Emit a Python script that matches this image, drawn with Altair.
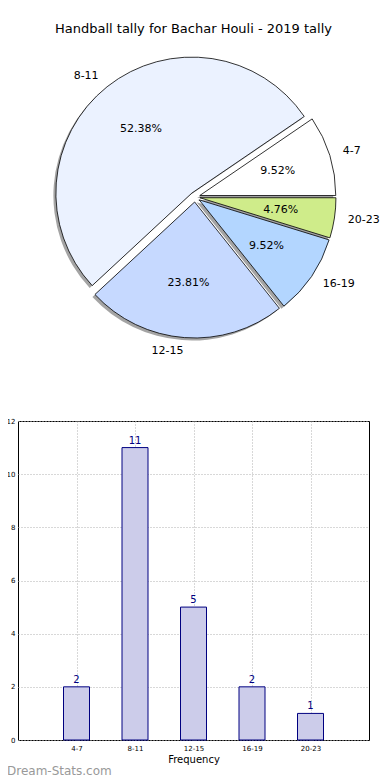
import math
import altair as alt
import pandas as pd

# ---------------- data ----------------
categories = ["4-7", "8-11", "12-15", "16-19", "20-23"]
counts = [2, 11, 5, 2, 1]
pie_colors = ["#ffffff", "#ebf2ff", "#c6d9ff", "#b3d6ff", "#cfec8a"]
y_ticks = [0, 2, 4, 6, 8, 10, 12]

title_text = "Handball tally for Bachar Houli - 2019 tally"
x_title = "Frequency"
y_title = "No. of Games"
watermark = "Dream-Stats.com"

# ---------------- layout constants ----------------
FONT = "DejaVu Sans"
PIE_W, PIE_H = 351, 330
CX, CY = 177, 157      # pie centre inside the pie view (px)
R = 136                # pie radius (px)
EXPLODE = 5            # explode distance (px)
SH_DX, SH_DY = -2.5, 2.5
BAR_W, BAR_H = 351, 319

# ---------------- pie table built from the arrays ----------------
total = float(sum(counts))
rows = []
cum = 0.0
for cat, c in zip(categories, counts):
    a = 2 * math.pi * cum / total
    cum += c
    b = 2 * math.pi * cum / total
    m = (a + b) / 2
    x = CX + EXPLODE * math.cos(m)
    y = CY - EXPLODE * math.sin(m)
    rows.append({
        "cat": cat,
        "count": c,
        "pct": "%.2f%%" % (100.0 * c / total),
        "t0": 2.5 * math.pi - b,
        "t1": 2.5 * math.pi - a,
        "x": x,
        "y": y,
        "sx": x + SH_DX,
        "sy": y + SH_DY,
        "lx": x + 1.1 * R * math.cos(m),
        "ly": y - 1.1 * R * math.sin(m),
        "px": x + 0.6 * R * math.cos(m),
        "py": y - 0.6 * R * math.sin(m),
        "side": "left" if math.cos(m) > 0 else "right",
    })
pie_df = pd.DataFrame(rows)

pie_base = alt.Chart(pie_df)

shadow = pie_base.mark_arc(radius=R, fill="#4a4a4a", opacity=0.5, stroke=None).encode(
    x=alt.X("sx:Q", scale=None),
    y=alt.Y("sy:Q", scale=None),
    theta=alt.Theta("t0:Q", scale=None),
    theta2="t1:Q",
)

slices = pie_base.mark_arc(radius=R, stroke="black", strokeWidth=0.8).encode(
    x=alt.X("x:Q", scale=None),
    y=alt.Y("y:Q", scale=None),
    theta=alt.Theta("t0:Q", scale=None),
    theta2="t1:Q",
    fill=alt.Fill("cat:N", scale=alt.Scale(domain=categories, range=pie_colors), legend=None),
)

lab_left = pie_base.transform_filter(alt.datum.side == "left").mark_text(
    align="left", baseline="middle", font=FONT, fontSize=11, color="black"
).encode(x=alt.X("lx:Q", scale=None), y=alt.Y("ly:Q", scale=None), text="cat:N")

lab_right = pie_base.transform_filter(alt.datum.side == "right").mark_text(
    align="right", baseline="middle", font=FONT, fontSize=11, color="black"
).encode(x=alt.X("lx:Q", scale=None), y=alt.Y("ly:Q", scale=None), text="cat:N")

pct = pie_base.mark_text(
    align="center", baseline="middle", font=FONT, fontSize=11, color="black"
).encode(x=alt.X("px:Q", scale=None), y=alt.Y("py:Q", scale=None), text="pct:N")

pie = alt.layer(shadow, slices, lab_left, lab_right, pct).properties(
    width=PIE_W,
    height=PIE_H,
    title=alt.TitleParams(title_text, font=FONT, fontSize=13, fontWeight="normal",
                          color="black", anchor="middle", offset=4),
    view=alt.ViewBackground(stroke=None),
)

# ---------------- bar chart ----------------
bar_df = pd.DataFrame({"cat": categories, "count": counts})

xenc = alt.X(
    "cat:O", sort=categories,
    scale=alt.Scale(type="point", padding=1),
    axis=alt.Axis(title=x_title, labelAngle=0, labelFontSize=7, labelColor="black",
                  labelFont=FONT, titleFont=FONT, titleFontSize=10, titleFontWeight="normal",
                  titleColor="black", ticks=False, domain=False, labelPadding=4,
                  titlePadding=3, grid=True, gridDash=[1, 2], gridColor="#b0b0b0"),
)
yenc = alt.Y(
    "count:Q", scale=alt.Scale(domain=[0, 12]),
    axis=alt.Axis(title=y_title, values=y_ticks, labelFontSize=7, labelColor="black",
                  labelFont=FONT, titleFont=FONT, titleFontSize=10, titleFontWeight="normal",
                  titleColor="black", ticks=False, domain=False, labelPadding=3,
                  titlePadding=2, grid=True, gridDash=[1, 2], gridColor="#b0b0b0"),
)

bbase = alt.Chart(bar_df).encode(x=xenc, y=yenc)
bars = bbase.mark_bar(size=26, fill="#ccccea", stroke="#000080", strokeWidth=1)
blabels = bbase.mark_text(baseline="bottom", dy=-2, font=FONT, fontSize=10, color="#000080").encode(
    text="count:Q"
)
wm = alt.Chart(pd.DataFrame({"t": [watermark]})).mark_text(
    align="left", baseline="middle", font=FONT, fontSize=12, fontWeight="normal", color="#999999"
).encode(x=alt.value(-11), y=alt.value(350), text="t:N")

bar = alt.layer(bars, blabels, wm).properties(
    width=BAR_W, height=BAR_H,
    view=alt.ViewBackground(stroke="black", strokeWidth=1),
)

chart = alt.vconcat(pie, bar, spacing=46).properties(
    padding={"left": -15, "top": 15, "right": 0, "bottom": 0}
).configure_view(stroke=None)

chart.save("out.html", embed_options={"renderer": "svg", "actions": False})
